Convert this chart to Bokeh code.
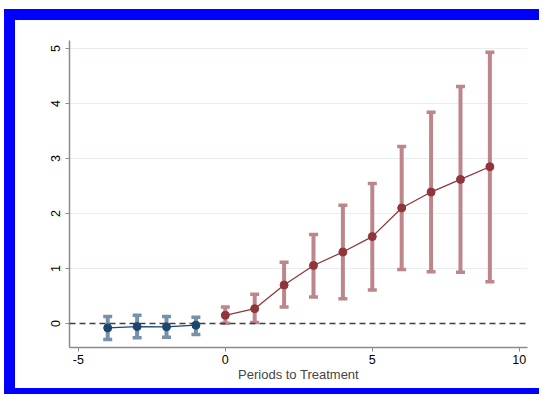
from bokeh.plotting import figure
from bokeh.models import Div, Span, FixedTicker
from bokeh.layouts import column, row
from bokeh.embed import file_html
from bokeh.resources import INLINE

# ---- data ----
pre_x = [-4, -3, -2, -1]
pre_est = [-0.08, -0.055, -0.06, -0.03]
pre_lo = [-0.29, -0.26, -0.25, -0.20]
pre_hi = [0.127, 0.15, 0.127, 0.115]

post_x = [0, 1, 2, 3, 4, 5, 6, 7, 8, 9]
post_est = [0.15, 0.27, 0.70, 1.055, 1.30, 1.58, 2.10, 2.39, 2.62, 2.85]
post_lo = [0.005, 0.02, 0.30, 0.48, 0.45, 0.61, 0.98, 0.94, 0.93, 0.76]
post_hi = [0.30, 0.53, 1.115, 1.62, 2.15, 2.545, 3.22, 3.84, 4.31, 4.93]

x_ticks = [-5, 0, 5, 10]
x_tick_labels = ["-5", "0", "5", "10"]
y_ticks = [0, 1, 2, 3, 4, 5]
x_title = "Periods to Treatment"

FONT = "Liberation Sans"
BLUE = "#1a476f"
BLUE_CI = "#7691a9"
RED = "#90353b"
RED_CI = "#bc868a"
FRAME = "#0000ff"

p = figure(width=524, height=368, x_range=(-5.3, 10.28), y_range=(-0.436, 5.145),
           output_backend="svg", toolbar_location=None, margin=0,
           min_border_left=54, min_border_right=12, min_border_top=20, min_border_bottom=41)
p.outline_line_color = None
p.background_fill_color = "white"
p.border_fill_color = "white"

# axes
for ax in (p.xaxis, p.yaxis):
    ax.axis_line_color = "#8a8a8a"
    ax.axis_line_width = 1.5
    ax.major_tick_line_color = "#8a8a8a"
    ax.major_tick_line_width = 1
    ax.minor_tick_line_color = None
    ax.major_label_text_font = FONT
    ax.major_label_text_font_size = "12.5px"
    ax.major_label_text_color = "black"
p.xaxis.ticker = FixedTicker(ticks=x_ticks)
p.xaxis.major_label_overrides = {t: s for t, s in zip(x_ticks, x_tick_labels)}
p.yaxis.ticker = FixedTicker(ticks=y_ticks)
p.xaxis.major_tick_out = 4
p.xaxis.major_tick_in = 0
p.yaxis.major_tick_out = 4
p.yaxis.major_tick_in = 0
p.xaxis.major_label_standoff = 3
p.yaxis.major_label_standoff = 5
p.yaxis.major_label_orientation = "vertical"
p.xaxis.axis_label = x_title
p.xaxis.axis_label_text_font = FONT
p.xaxis.axis_label_text_font_size = "13px"
p.xaxis.axis_label_text_font_style = "normal"
p.xaxis.axis_label_standoff = 0

p.xgrid.grid_line_color = None
p.ygrid.ticker = FixedTicker(ticks=[t for t in y_ticks if t != 0])
p.ygrid.grid_line_color = "#e6eef0"
p.ygrid.grid_line_width = 1

# CIs
p.segment(x0=pre_x, y0=pre_lo, x1=pre_x, y1=pre_hi, line_color=BLUE_CI, line_width=4)
p.scatter(x=pre_x + pre_x, y=pre_lo + pre_hi, marker="dash", size=9,
          line_color=BLUE_CI, line_width=3.5)
p.segment(x0=post_x, y0=post_lo, x1=post_x, y1=post_hi, line_color=RED_CI, line_width=4)
p.scatter(x=post_x + post_x, y=post_lo + post_hi, marker="dash", size=9,
          line_color=RED_CI, line_width=3.5)

# zero line
p.add_layout(Span(location=0, dimension="width", line_color="#404040",
                  line_width=1.6, line_dash="6 4"))

# estimates
p.line(pre_x, pre_est, line_color=BLUE, line_width=1.3)
p.scatter(pre_x, pre_est, size=8, fill_color=BLUE, line_color=BLUE)
p.line(post_x, post_est, line_color=RED, line_width=1.3)
p.scatter(post_x, post_est, size=8, fill_color=RED, line_color=RED)

# frame bands and spacers
def band(w, h, color):
    return Div(text="", width=w, height=h, margin=0, styles={"background-color": color})

inner = column(
    band(535, 11, FRAME),
    row(band(11, 368, FRAME), p, spacing=0, margin=0),
    band(535, 6, FRAME),
    spacing=0, margin=0,
)
layout = column(
    band(539, 9, "white"),
    row(band(4, 385, "white"), inner, spacing=0, margin=0),
    spacing=0, margin=0,
)

open("out.html", "w").write(file_html(layout, INLINE))
